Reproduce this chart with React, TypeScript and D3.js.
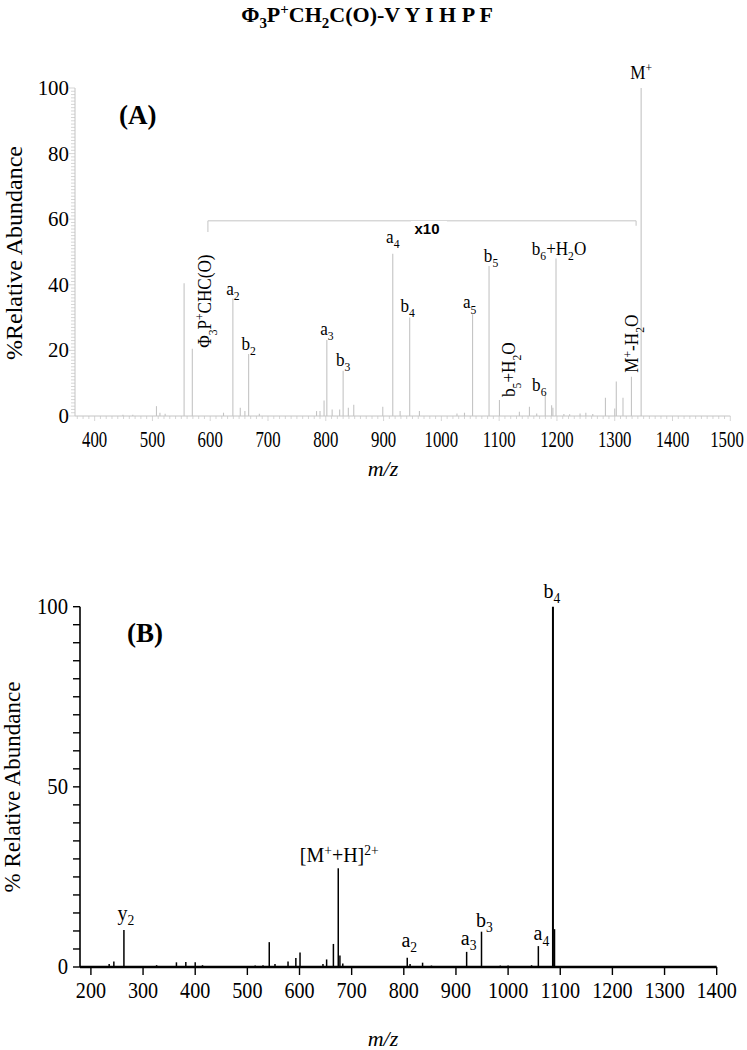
import React from 'react';
import * as d3 from 'd3';

const SERIF = '"Liberation Serif", "Times New Roman", serif';
const SANS = '"Liberation Sans", Arial, sans-serif';

const titleText = 'Φ_3P^+CH_2C(O)-V Y I H P F';

// panel A (MS/MS of M+), displayed intensities (x10 region already scaled)
const mzA = [449, 466, 507, 513, 522, 554.8, 569, 623, 639.2, 652, 660, 666.5, 685, 784, 790, 797, 801.8, 811, 824, 830, 839, 848.4,
  898.6, 915.9, 928.6, 945.2, 962, 1027, 1040, 1054, 1082.5, 1100.5, 1135, 1152.4, 1165, 1179.8, 1190.8, 1193, 1198.4,
  1212, 1222, 1240, 1250, 1262, 1283.9, 1300, 1302.7, 1314.3, 1328.9, 1345.7];
const intA = [0.4, 0.4, 3.0, 1.0, 0.7, 40.5, 20.5, 1.0, 35.8, 2.5, 1.5, 18.9, 0.7, 1.5, 1.5, 4.7, 23.2, 2.0, 2.0, 13.8, 2.5, 3.4,
  2.8, 49.5, 1.5, 30, 1.5, 0.8, 1.0, 31, 45.7, 4.9, 1.3, 2.8, 0.8, 6.4, 3.3, 2.5, 48,
  0.6, 0.5, 0.8, 1.0, 0.6, 5.6, 2.3, 10.5, 5.6, 12, 100];
const labelA = ['Φ_3P^+CHC(O)', 'a_2', 'b_2', 'a_3', 'b_3', 'a_4', 'b_4', 'a_5', 'b_5', 'b_5+H_2O', 'b_6', 'b_6+H_2O', 'M^+-H_2O', 'M^+'];
const labelAmz = [569, 639.2, 666.5, 801.8, 830, 915.9, 945.2, 1054, 1082.5, 1100.5, 1179.8, 1198.4, 1328.9, 1345.7];
const labelAvertical = [true, false, false, false, false, false, false, false, false, true, false, false, true, false];
const zoomRangeA = [596, 1337];
const zoomText = 'x10';
const yTicksA = [0, 20, 40, 60, 80, 100];
const xTicksA = d3.range(400, 1501, 100);

// panel B
const mzB = [235, 244, 263.3, 326, 364, 382, 400, 414, 515, 530, 542, 553, 578, 593, 601, 645, 652, 665, 674.3, 677.5, 683,
  806.6, 812, 836, 853, 920.5, 949, 985, 1000, 1045, 1058, 1086, 1089];
const intB = [0.8, 1.5, 10.3, 0.5, 1.3, 1.4, 1.3, 0.5, 0.4, 0.5, 6.9, 0.8, 1.5, 2.5, 4.0, 0.8, 2.1, 6.4, 27.4, 3.2, 1.0,
  2.6, 0.8, 1.2, 0.4, 4.2, 9.8, 0.4, 0.4, 0.5, 5.8, 100, 10.5];
const labelB = ['y_2', '[M^+^{}+H]^{2+}', 'a_2', 'a_3', 'b_3', 'a_4', 'b_4'];
const labelBmz = [263.3, 674.3, 806.6, 920.5, 949, 1058, 1086];
const yTicksB = [0, 50, 100];
const xTicksB = d3.range(200, 1401, 100);

// layout nudges for the labels (dx, gap above peak)
const nudgeA: [number, number][] = [[19, 1], [0, 4], [0, 4], [0, 5], [0, 5], [0, 11], [-2, 6], [-3, 6], [2, 4], [16, 3], [-6, 4], [3, 4], [7, 4], [0, 9]];
const nudgeB: [number, number][] = [[2, 10], [1, 6], [2, 11], [2, 7], [3, 5], [3, 6], [-1, 9]];

type Part = { t: string; k: 'n' | 'sub' | 'sup' };
function parse(text: string): Part[] {
  const parts: Part[] = [];
  let i = 0;
  while (i < text.length) {
    const c = text[i];
    if (c === '_' || c === '^') {
      let content: string;
      if (text[i + 1] === '{') {
        const j = text.indexOf('}', i);
        content = text.slice(i + 2, j);
        i = j + 1;
      } else {
        content = text[i + 1];
        i += 2;
      }
      if (content) parts.push({ t: content, k: c === '_' ? 'sub' : 'sup' });
    } else {
      let j = i;
      while (j < text.length && text[j] !== '_' && text[j] !== '^') j++;
      parts.push({ t: text.slice(i, j), k: 'n' });
      i = j;
    }
  }
  return parts;
}

function Rich(props: { text: string; x: number; y: number; size: number; sx?: number; anchor?: string; vertical?: boolean; weight?: string }) {
  const { text, x, y, size, sx = 1, anchor = 'middle', vertical = false, weight = 'normal' } = props;
  let cur = 0;
  const small = size * 0.68;
  const spans = parse(text).map((p, i) => {
    const target = p.k === 'sub' ? size * 0.28 : p.k === 'sup' ? -size * 0.36 : 0;
    const dy = target - cur;
    cur = target;
    return <tspan key={i} dy={dy} fontSize={p.k === 'n' ? size : small}>{p.t}</tspan>;
  });
  return (
    <text fontSize={size} fontFamily={SERIF} fontWeight={weight}
      textAnchor={vertical ? 'start' : anchor}
      transform={`translate(${x},${y})${vertical ? ' rotate(-90)' : ''} scale(${sx},1)`}>{spans}</text>
  );
}

// plain serif text, squeezed horizontally like the original figure
function T(props: { x: number; y: number; size: number; sx?: number; anchor?: string; children: React.ReactNode }) {
  const { x, y, size, sx = 1, anchor = 'middle', children } = props;
  return (
    <text transform={`translate(${x},${y}) scale(${sx},1)`} textAnchor={anchor} fontSize={size} fontFamily={SERIF}>{children}</text>
  );
}

export default function App() {
  const grayA = '#c4c4c4';
  const xA = d3.scaleLinear().domain([366, 1500]).range([75, 730.3]);
  const yA = d3.scaleLinear().domain([0, 100]).range([416, 88]);
  const xB = d3.scaleLinear().domain([181, 1400]).range([81, 716.7]);
  const yB = d3.scaleLinear().domain([0, 100]).range([967, 606.7]);

  const minorYA = d3.range(0, 101, 1);
  const minorXA = d3.range(370, 1501, 10);
  const minorYB = d3.range(0, 101, 5);

  return (
    <svg width={747} height={1050} style={{ position: 'absolute', left: 0, top: 0, background: '#fff' }}>
      <Rich text={titleText} x={367} y={22} size={22} weight="bold" />

      {/* Panel A */}
      <g>
        <line x1={xA.range()[0]} x2={xA.range()[0]} y1={yA(0)} y2={yA(100)} stroke={grayA} strokeWidth={1} />
        <line x1={xA.range()[0]} x2={xA.range()[1]} y1={yA(0)} y2={yA(0)} stroke={grayA} strokeWidth={1} />
        {minorYA.map(v => (
          <line key={'ya' + v} x1={xA.range()[0] - (v % 20 === 0 ? 6 : 4)} x2={xA.range()[0]} y1={yA(v)} y2={yA(v)} stroke={grayA} strokeWidth={0.7} />
        ))}
        {minorXA.map(v => (
          <line key={'xa' + v} x1={xA(v)} x2={xA(v)} y1={yA(0)} y2={yA(0) + (v % 100 === 0 ? 5 : 3)} stroke={grayA} strokeWidth={0.7} />
        ))}
        {yTicksA.map(v => (
          <T key={'yl' + v} x={69} y={yA(v) + 7} size={22} sx={0.95} anchor="end">{v}</T>
        ))}
        {xTicksA.map(v => (
          <T key={'xl' + v} x={Math.min(xA(v), 727)} y={yA(0) + 31} size={24} sx={0.7}>{v}</T>
        ))}
        <text transform={`translate(22, 253) rotate(-90)`} textAnchor="middle" fontSize={24} fontFamily={SERIF}>%Relative Abundance</text>
        <text x={383} y={476} textAnchor="middle" fontSize={22} fontFamily={SERIF} fontStyle="italic">m/z</text>
        <text x={119} y={124} fontSize={27} fontWeight="bold" fontFamily={SERIF}>(A)</text>

        {mzA.map((m, i) => (
          <line key={'pa' + i} x1={xA(m)} x2={xA(m)} y1={yA(0)} y2={yA(intA[i])} stroke={grayA} strokeWidth={1.1} />
        ))}

        {/* x10 bracket */}
        <path d={`M${xA(zoomRangeA[0])},${yA(0) - 184}V${yA(59.5)}H${xA(zoomRangeA[1])}V${yA(58)}`}
          fill="none" stroke={grayA} strokeWidth={1} />
        <rect x={xA(zoomRangeA[0]) + 203} y={221} width={36} height={15} fill="#fff" />
        <text x={427} y={234} textAnchor="middle" fontSize={15} fontWeight="bold" fontFamily={SANS}>{zoomText}</text>

        {labelA.map((t, i) => {
          const m = labelAmz[i];
          const v = intA[mzA.indexOf(m)];
          const [dx, gap] = nudgeA[i];
          return <Rich key={'la' + i} text={t} x={xA(m) + dx} y={yA(v) - gap} size={19} sx={0.9} vertical={labelAvertical[i]} />;
        })}
      </g>

      {/* Panel B */}
      <g>
        <line x1={80} x2={80} y1={yB(0)} y2={yB(100)} stroke="#000" strokeWidth={1.6} />
        <line x1={80} x2={xB.range()[1]} y1={yB(0)} y2={yB(0)} stroke="#000" strokeWidth={2.4} />
        {minorYB.map(v => (
          <line key={'yb' + v} x1={73} x2={80} y1={yB(v)} y2={yB(v)} stroke="#000" strokeWidth={1.4} />
        ))}
        {xTicksB.map(v => (
          <line key={'xbt' + v} x1={xB(v)} x2={xB(v)} y1={yB(0)} y2={yB(0) + 8} stroke="#000" strokeWidth={1.4} />
        ))}
        {yTicksB.map(v => (
          <T key={'ybl' + v} x={68} y={yB(v) + 7} size={23} sx={0.9} anchor="end">{v}</T>
        ))}
        {xTicksB.map(v => (
          <T key={'xbl' + v} x={xB(v)} y={yB(0) + 31} size={24} sx={0.84}>{v}</T>
        ))}
        <text transform={`translate(20, 787) rotate(-90)`} textAnchor="middle" fontSize={23} fontFamily={SERIF}>% Relative Abundance</text>
        <text x={383} y={1046} textAnchor="middle" fontSize={22} fontFamily={SERIF} fontStyle="italic">m/z</text>
        <text x={127} y={642} fontSize={27} fontWeight="bold" fontFamily={SERIF}>(B)</text>

        {mzB.map((m, i) => (
          <line key={'pb' + i} x1={xB(m)} x2={xB(m)} y1={yB(0)} y2={yB(intB[i])} stroke="#000" strokeWidth={intB[i] > 50 ? 2 : 1.5} />
        ))}

        {labelB.map((t, i) => {
          const m = labelBmz[i];
          const v = intB[mzB.indexOf(m)];
          const [dx, gap] = nudgeB[i];
          return <Rich key={'lb' + i} text={t} x={xB(m) + dx} y={yB(v) - gap} size={20} />;
        })}
      </g>
    </svg>
  );
}
